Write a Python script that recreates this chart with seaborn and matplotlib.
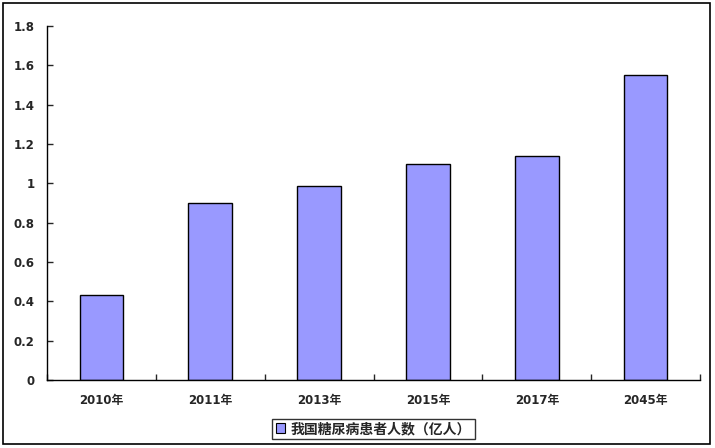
import matplotlib
matplotlib.use("Agg")
import matplotlib.pyplot as plt
import seaborn as sns
import pandas as pd
from matplotlib.patches import Rectangle, Patch

categories = ["2010年", "2011年", "2013年", "2015年", "2017年", "2045年"]
values = [0.43, 0.90, 0.985, 1.10, 1.14, 1.55]
series_name = "我国糖尿病患者人数（亿人）"
yticks = [0, 0.2, 0.4, 0.6, 0.8, 1, 1.2, 1.4, 1.6, 1.8]
ytick_labels = ["0", "0.2", "0.4", "0.6", "0.8", "1", "1.2", "1.4", "1.6", "1.8"]

sns.set_style("white")
plt.rcParams['font.family'] = ['DejaVu Sans', 'Noto Sans CJK SC']

df = pd.DataFrame({"year": categories, "value": values})

fig = plt.figure(figsize=(7.15, 4.48), dpi=100)
W, H = 715, 448
ax = fig.add_axes([47 / W, 1 - 380 / H, (700 - 47) / W, (380 - 26) / H])

sns.barplot(data=df, x="year", y="value", color="#9999FF", edgecolor="black",
            linewidth=1.0, width=0.4, saturation=1, ax=ax)

ax.set_xlim(-0.5, len(categories) - 0.5)
ax.set_ylim(0, 1.8)
ax.set_yticks(yticks)
ax.set_yticklabels(ytick_labels, fontsize=8.5, fontweight="bold")
ax.set_xticks(range(len(categories)))
ax.set_xticklabels(categories, fontsize=8.5, fontweight="bold")
ax.tick_params(axis="x", length=0, pad=10)
ax.tick_params(axis="y", direction="in", length=4, width=1, pad=9, left=True)
ax.set_xticks([i + 0.5 for i in range(-1, len(categories))], minor=True)
ax.tick_params(axis="x", which="minor", direction="in", length=4, width=1, bottom=True)
ax.set_xlabel("")
ax.set_ylabel("")
for s in ["top", "right"]:
    ax.spines[s].set_visible(False)
for s in ["left", "bottom"]:
    ax.spines[s].set_color("black")
    ax.spines[s].set_linewidth(1)

handle = Patch(facecolor="#9999FF", edgecolor="black", linewidth=0.8)
leg = fig.legend([handle], [series_name], loc="center", bbox_to_anchor=(373.5 / W, 1 - 429 / H),
                 frameon=True, fancybox=False, edgecolor="black",
                 prop={"family": ["Noto Sans CJK SC", "DejaVu Sans"], "weight": "bold", "size": 10},
                 handlelength=0.7, handleheight=0.7, handletextpad=0.4,
                 borderpad=0.25, borderaxespad=0)
leg.get_frame().set_linewidth(1)

fig.patches.append(Rectangle((3 / W, 1 - 444 / H), (710 - 3) / W, (444 - 3) / H,
                             transform=fig.transFigure, fill=False, edgecolor="black",
                             linewidth=1.2))

fig.savefig("out.png", dpi=100)
